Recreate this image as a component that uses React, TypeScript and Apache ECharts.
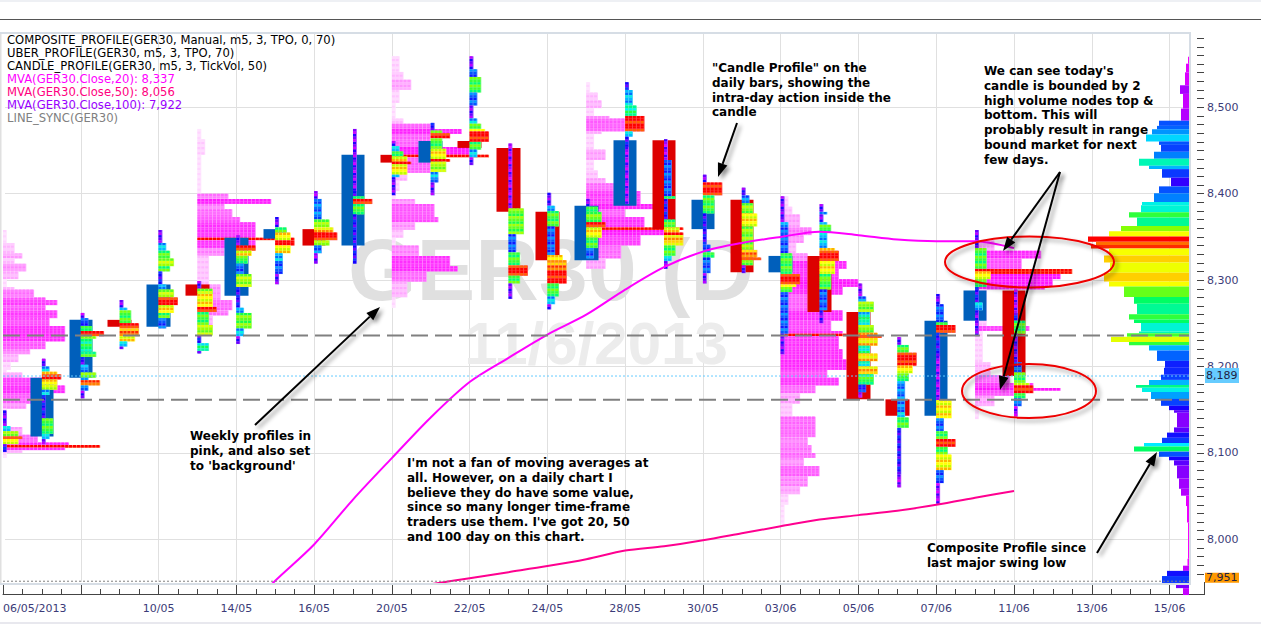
import React, { useEffect, useRef } from "react";
import * as echarts from "echarts";

const Y_MIN = 7950.6, Y_MAX = 8586, X_MAX = 30.5;
const xTickLabels: Record<number, string> = { 0: "06/05/2013", 2: "", 4: "10/05", 6: "14/05", 8: "16/05", 10: "20/05", 12: "22/05", 14: "24/05", 16: "28/05", 18: "30/05", 20: "03/06", 22: "05/06", 24: "07/06", 26: "11/06", 28: "13/06", 30: "15/06" };
const yMajor = [8000, 8100, 8200, 8300, 8400, 8500];
const hLevels = [8236, 8161.5];
const lastPrice = 8189, lowPrice = 7951;

// bars: open, close; index = position on the x axis starting at 1
const opens = [8119, 8187, 8254, 8246, 8295, 8282, 8348, 8359, 8340, 8445, 8436, 8461, 8453, 8379, 8323, 8386, 8462, 8359, 8393, 8309, 8328, 8263, 8162, 8143, 8253, 8288];
const closes = [8187, 8254, 8246, 8295, 8282, 8349, 8359, 8340, 8445, 8436, 8461, 8453, 8379, 8323, 8386, 8462, 8359, 8393, 8309, 8328, 8263, 8162, 8143, 8253, 8288, 8189];

const mva20 = [[6, 7907], [7, 7952], [8, 7994], [9, 8046], [10, 8094], [11, 8141], [12, 8182], [13, 8210], [14, 8237], [15, 8260], [16, 8289], [17, 8315], [18, 8333], [19, 8343], [20, 8350], [21, 8356], [22, 8352], [23, 8347], [24, 8345], [25, 8345], [26, 8337]];
const mva50 = [[11, 7948], [12, 7955], [13, 7962], [14, 7969], [15, 7977], [16, 7987], [17, 7992], [18, 7999], [19, 8007], [20, 8015], [21, 8023], [22, 8028], [23, 8033], [24, 8040], [25, 8048], [26, 8056]];

// Candle profiles: top price, then [rows of 3 points, width in cells]
const candleTops = [8149, 8209, 8262, 8277, 8358, 8299, 8352, 8373, 8403, 8475, 8461, 8482, 8559, 8458, 8401, 8394, 8529, 8463, 8422, 8407, 8397, 8388, 8296, 8234, 8284, 8358, 8289];
const candleRuns: number[][][] = [
  [[6, 0.7], [2, 2], [2, 3.5], [1, 5], [2, 4], [3, 1]],
  [[3, 0.7], [2, 2], [1, 4], [2, 5], [2, 4], [2, 3.8], [2, 2], [9, 1], [6, 3], [2, 2], [2, 0.7]],
  [[2, 0.6], [3, 1.5], [2, 3], [2, 5.5], [1, 4], [5, 3], [2, 3.2], [3, 1], [3, 2], [2, 3.5], [1, 2], [2, 5], [2, 2], [3, 0.7]],
  [[3, 0.7], [1, 2], [5, 3], [2, 5], [3, 4.5], [2, 4], [2, 2], [1, 0.7]],
  [[5, 0.7], [3, 2], [3, 3], [3, 3.5], [2, 3], [5, 1], [2, 2], [3, 3.5], [3, 5], [3, 4], [2, 3], [4, 1.5]],
  [[3, 0.7], [2, 3.5], [5, 4], [2, 5], [5, 3], [4, 3.5], [3, 1], [3, 2.5], [1, 1]],
  [[4, 0.7], [2, 5], [2, 4], [3, 3], [4, 1.5], [5, 3.5], [8, 1], [2, 2], [6, 3.2], [3, 2], [3, 0.7]],
  [[4, 0.7], [2, 3], [3, 4], [2, 5], [3, 4], [3, 2], [5, 1.5], [4, 0.7]],
  [[3, 0.7], [8, 2], [3, 4], [2, 5], [3, 6], [2, 4], [3, 2], [4, 0.7]],
  [[24, 0.6], [2, 1], [1, 3], [2, 5], [4, 3], [19, 1]],
  [[2, 0.7], [2, 2], [2, 3], [2, 4], [1, 5], [4, 4], [1, 2], [7, 0.7]],
  [[3, 1], [1, 3], [2, 5], [4, 3], [4, 4], [1, 5], [4, 3.5], [2, 2], [2, 1.5], [5, 0.7]],
  [[5, 0.7], [3, 1.5], [6, 3], [5, 1.5], [5, 0.7], [2, 2], [2, 3], [1, 4], [4, 5], [3, 3], [3, 2], [3, 0.7]],
  [[25, 0.5], [10, 3.2], [7, 1.5], [5, 3], [4, 5], [3, 3], [6, 0.7]],
  [[5, 0.7], [2, 2], [6, 3], [11, 1.5], [2, 4], [4, 4.5], [5, 5], [5, 3], [3, 2], [2, 0.7]],
  [[3, 0.7], [2, 3], [4, 3.2], [2, 5], [4, 4], [4, 3], [4, 1.5]],
  [[3, 1], [6, 2], [4, 2.6], [6, 5], [2, 2], [4, 1], [22, 0.5]],
  [[8, 0.5], [14, 1.5], [1, 3], [8, 1], [3, 3], [2, 4], [1, 5], [4, 4.2], [4, 3], [2, 2], [3, 0.7]],
  [[3, 0.7], [5, 5], [7, 3], [12, 1], [3, 1.5], [2, 3], [6, 1.5], [4, 0.7]],
  [[3, 0.7], [3, 1.5], [4, 3], [5, 3.6], [9, 3], [3, 4], [1, 4.5], [2, 3], [3, 0.7]],
  [[10, 0.7], [2, 2], [10, 1.5], [8, 3], [4, 5], [1, 4], [2, 3], [16, 1.5], [8, 0.7]],
  [[3, 0.7], [1, 2], [3, 0.7], [1, 2], [3, 3], [6, 2], [1, 4], [4, 5], [5, 4], [2, 3], [4, 3], [8, 1.5], [5, 0.7]],
  [[5, 0.7], [2, 2], [4, 4], [2, 2.6], [3, 3], [3, 4], [1, 5], [1, 6], [3, 5], [3, 3], [3, 5], [2, 3], [3, 5], [4, 3.5], [3, 1.5], [2, 0.7]],
  [[3, 0.7], [3, 3], [5, 5], [3, 4], [3, 3], [12, 1.7], [2, 2], [4, 3], [18, 1], [5, 0.5]],
  [[4, 0.7], [7, 1.5], [1, 3], [3, 5], [9, 1], [17, 0.5], [7, 4], [5, 1.5], [3, 3], [3, 5], [3, 3], [6, 4], [5, 1.5], [8, 0.5]],
  [[7, 0.7], [8, 3], [1, 5], [3, 4], [3, 3], [6, 1], [3, 2], [10, 0.7]],
  [[9, 0.5], [3, 1], [5, 3], [11, 0.7], [4, 1.5], [4, 3], [1, 4], [3, 5], [2, 3], [3, 1.5], [4, 0.5]],
];

// Weekly pink profiles: first bar index, top price, [rows of 3 points, width in cells]
const weekStarts = [0, 5, 10, 15, 20, 25];
const weekTops = [8358, 8475, 8559, 8529, 8397, 8358];
const weekRuns: number[][][] = [
  [[5, 1], [4, 3], [2, 5], [2, 3], [3, 6], [3, 4], [3, 1], [1, 3], [3, 8], [1, 11], [2, 14], [2, 11], [3, 14], [3, 12], [6, 16], [3, 11], [2, 7], [3, 4], [3, 2], [1, 1], [2, 5], [3, 14], [3, 16], [1, 12], [3, 10], [2, 6], [7, 1], [3, 5], [3, 9], [1, 17], [1, 25], [1, 16], [1, 5], [2, 1]],
  [[4, 1], [6, 2], [15, 1], [2, 8], [2, 19], [2, 7], [3, 9], [2, 11], [6, 15], [1, 25], [3, 15], [3, 7], [11, 3], [6, 6], [4, 9], [2, 8], [5, 4]],
  [[6, 2], [3, 3], [4, 5], [5, 2], [6, 1], [2, 3], [2, 10], [2, 18], [2, 10], [3, 10], [3, 20], [1, 25], [6, 10], [3, 4], [4, 2], [3, 1], [2, 6], [5, 11], [2, 12], [3, 6], [3, 3], [3, 1], [4, 7], [4, 15], [2, 17], [4, 9], [6, 4], [4, 1]],
  [[4, 1], [3, 3], [3, 4], [3, 2], [1, 6], [5, 10], [1, 4], [6, 2], [4, 5], [4, 2], [3, 3], [2, 5], [3, 9], [5, 14], [2, 19], [3, 10], [4, 15], [1, 25], [2, 20], [4, 14], [5, 9], [4, 5]],
  [[4, 2], [3, 3], [5, 5], [3, 8], [3, 6], [4, 4], [3, 7], [3, 17], [4, 15], [3, 20], [3, 16], [6, 10], [4, 16], [4, 13], [1, 16], [1, 25], [5, 15], [4, 16], [4, 17], [3, 12], [3, 15], [3, 9], [4, 5], [5, 3], [8, 9], [3, 7], [3, 8], [2, 9], [3, 6], [4, 10], [4, 7], [3, 5], [4, 2], [8, 1]],
  [[4, 1], [4, 5], [3, 17], [4, 12], [2, 25], [2, 22], [3, 20], [1, 18], [6, 3], [8, 3], [2, 14], [12, 2], [5, 4], [3, 9], [2, 15], [1, 22], [2, 12], [4, 5], [5, 1]],
];

// Composite profile: top price, then [points, width]
const compositeTop = 8558.5;
const compositeRuns = [[8, 1], [10, 3], [15, 4], [10, 9], [17, 6], [14, 8], [6, 30], [4, 32], [6, 37], [8, 43], [4, 30], [8, 28], [8, 35], [8, 50], [4, 40], [10, 27], [10, 18], [8, 30], [10, 35], [4, 47], [8, 48], [6, 60], [10, 52], [6, 68], [6, 80], [6, 101], [4, 93], [4, 98], [8, 80], [8, 85], [12, 79], [10, 85], [6, 80], [12, 65], [8, 55], [12, 52], [6, 60], [4, 55], [10, 48], [2, 50], [4, 62], [6, 78], [4, 60], [6, 40], [12, 32], [8, 24], [8, 25], [6, 28], [6, 40], [3, 53], [5, 47], [8, 38], [8, 28], [5, 20], [3, 15], [17, 12], [6, 15], [6, 22], [6, 27], [4, 45], [6, 55], [6, 30], [4, 20], [6, 15], [15, 12], [12, 10], [8, 8], [12, 3], [19, 2], [42, 1], [8, 1.5], [6, 6], [6, 22], [8, 27], [6, 13], [8, 6]];

const legendLines: [string, string][] = [
  ["COMPOSITE_PROFILE(GER30, Manual, m5, 3, TPO, 0, 70)", "#000000"],
  ["UBER_PROFILE(GER30, m5, 3, TPO, 70)", "#000000"],
  ["CANDLE_PROFILE(GER30, m5, 3, TickVol, 50)", "#000000"],
  ["MVA(GER30.Close,20): 8,337", "#ff00ff"],
  ["MVA(GER30.Close,50): 8,056", "#ff0080"],
  ["MVA(GER30.Close,100): 7,922", "#9900ff"],
  ["LINE_SYNC(GER30)", "#808080"],
];
const notes: [number, number, string[]][] = [
  [190, 436, ["Weekly profiles in", "pink, and also set", "to 'background'"]],
  [407, 463, ["I'm not a fan of moving averages at", "all. However, on a daily chart I", "believe they do have some value,", "since so many longer time-frame", "traders use them. I've got 20, 50", "and 100 day on this chart."]],
  [712, 68, ["\"Candle Profile\" on the", "daily bars, showing the", "intra-day action inside the", "candle"]],
  [984, 71, ["We can see today's", "candle is bounded by 2", "high volume nodes top &", "bottom. This will", "probably result in range", "bound market for next", "few days."]],
  [927, 548, ["Composite Profile since", "last major swing low"]],
];
const arrows = [[255, 425, 380, 307], [737, 123, 718, 177], [1060, 172, 1003, 251], [1060, 172, 1000, 390], [1097, 553, 1157, 452]];
const ellipses = [[1029.5, 262, 84.5, 25.5], [1029, 391, 67, 27]];

const stops: [number, number[]][] = [
  [0, [255, 0, 255]], [0.1, [160, 0, 255]], [0.2, [20, 0, 255]], [0.33, [0, 110, 255]], [0.45, [0, 240, 255]],
  [0.55, [0, 255, 90]], [0.68, [140, 255, 0]], [0.8, [255, 255, 0]], [0.9, [255, 140, 0]], [1, [255, 0, 0]],
];
function mix(a: number[], b: number[], t: number) {
  return a.map((v, i) => Math.round(v + (b[i] - v) * t));
}
function css(c: number[]) { return `rgb(${c[0]},${c[1]},${c[2]})`; }
function rainbow(t: number) {
  const v = Math.max(0, Math.min(1, t));
  for (let i = 1; i < stops.length; i++) {
    if (v <= stops[i][0]) return mix(stops[i - 1][1], stops[i][1], (v - stops[i - 1][0]) / (stops[i][0] - stops[i - 1][0]));
  }
  return stops[stops.length - 1][1];
}
const pinkStops: [number, number[]][] = [[0, [255, 228, 255]], [0.1, [255, 190, 255]], [0.3, [255, 110, 255]], [0.6, [255, 45, 255]], [1, [255, 0, 255]]];
function pink(t: number) {
  const v = Math.max(0, Math.min(1, t));
  for (let i = 1; i < pinkStops.length; i++) {
    if (v <= pinkStops[i][0]) return mix(pinkStops[i - 1][1], pinkStops[i][1], (v - pinkStops[i - 1][0]) / (pinkStops[i][0] - pinkStops[i - 1][0]));
  }
  return pinkStops[pinkStops.length - 1][1];
}
const WHITE = [255, 255, 255];

function flatten(starts: number[], tops: number[], runs: number[][][]) {
  const out: number[][] = [];
  runs.forEach((list, p) => {
    const max = Math.max(...list.map((r) => r[1]));
    let price = tops[p];
    list.forEach(([rows, w]) => {
      out.push([starts[p], price, rows, w, w / max]);
      price -= rows * 3;
    });
  });
  return out;
}

function cellRenderer(kind: "week" | "candle") {
  const shifts = kind === "week" ? [0, -0.06] : [-0.07, 0.07, 0];
  return (_: any, api: any) => {
    const x0 = api.value(0), price = api.value(1), rows = api.value(2), w = api.value(3), t = api.value(4);
    const p = api.coord([x0, price]);
    const rowH = api.size([0, 3])[1];
    const cellW = api.size([0.1, 0])[0];
    const cells = Math.ceil(w);
    const paths: string[] = shifts.map(() => "");
    const base = Math.round(price / 3);
    for (let r = 0; r < rows; r++) {
      const ph = (base + r) % shifts.length;
      for (let c = 0; c < cells; c++) {
        paths[ph] += `M${(p[0] + c * cellW).toFixed(1)} ${(p[1] + r * rowH).toFixed(1)}h3v${(rowH - 0.3).toFixed(1)}h-3Z`;
      }
    }
    const isPoc = kind === "week" && t >= 1;
    const colour = (s: number) => (isPoc ? [255, 0, 0] : kind === "week" ? pink(t + s) : rainbow(t + s));
    const bg = isPoc ? [255, 110, 70] : mix(colour(0), WHITE, kind === "week" ? 0.38 : 0.3);
    const children: any[] = [{ type: "rect", shape: { x: p[0], y: p[1], width: cells * cellW, height: rows * rowH }, style: { fill: css(bg) } }];
    paths.forEach((d, i) => {
      if (d) children.push({ type: "path", shape: { pathData: d }, style: { fill: css(colour(shifts[i])) } });
    });
    return { type: "group", children };
  };
}

function compositeData() {
  const out: number[][] = [];
  const max = Math.max(...compositeRuns.map((r) => r[1]));
  let price = compositeTop;
  compositeRuns.forEach(([pts, w]) => {
    out.push([price, pts, w, w / max]);
    price -= pts;
  });
  return out;
}

function arrowEls() {
  const els: any[] = [];
  const shadow = { shadowBlur: 4, shadowColor: "rgba(0,0,0,0.45)", shadowOffsetX: 3, shadowOffsetY: 3 };
  arrows.forEach(([x1, y1, x2, y2]) => {
    const a = Math.atan2(y2 - y1, x2 - x1);
    const bx = x2 - 14 * Math.cos(a), by = y2 - 14 * Math.sin(a);
    const nx = -Math.sin(a) * 5, ny = Math.cos(a) * 5;
    els.push({ type: "line", z: 50, shape: { x1, y1, x2: bx, y2: by }, style: { stroke: "#000", lineWidth: 2, ...shadow } });
    els.push({ type: "polygon", z: 50, shape: { points: [[x2, y2], [bx + nx, by + ny], [bx - nx, by - ny]] }, style: { fill: "#000", ...shadow } });
  });
  return els;
}

export default function App() {
  const ref = useRef<HTMLDivElement>(null);
  useEffect(() => {
    document.body.style.margin = "0";
    const chart = echarts.init(ref.current!, undefined, { renderer: "svg" });
    const labelStyle = { color: "#3b3b78", fontFamily: "DejaVu Sans", fontSize: 11 };
    const minorTicks: number[] = [];
    for (let v = 7960; v <= 8580; v += 10) minorTicks.push(v);

    const graphics: any[] = [
      { type: "rect", z: 0.5, shape: { x: 0, y: 34, width: 5, height: 549 }, style: { fill: "#ffffff" } },
      { type: "rect", z: 0.6, shape: { x: 0, y: 34, width: 1.5, height: 549 }, style: { fill: "#e0e0e0" } },
      { type: "text", z: 0.5, style: { text: "GER30 (D", x: 348, y: 269, font: "bold 88px 'Liberation Sans'", fill: "#e0e0e0", textVerticalAlign: "middle" } },
      { type: "text", z: 0.5, style: { text: "11/6/2013", x: 596, y: 343, font: "bold 60px 'Liberation Sans'", fill: "#ececec", textAlign: "center", textVerticalAlign: "middle" } },
      { type: "rect", z: 60, shape: { x: 0, y: 0, width: 1261, height: 2 }, style: { fill: "#eef0f4" } },
      { type: "rect", z: 60, shape: { x: 0, y: 19, width: 1261, height: 1 }, style: { fill: "#555555" } },
      { type: "rect", z: 60, shape: { x: 0, y: 32, width: 1190, height: 2 }, style: { fill: "#d6dde5" } },
      { type: "rect", z: 60, shape: { x: 1189, y: 32, width: 2, height: 553 }, style: { fill: "#d6dde5" } },
      { type: "rect", z: 60, shape: { x: 0, y: 583, width: 1190, height: 2 }, style: { fill: "#d6dde5" } },
      { type: "rect", z: 60, shape: { x: 0, y: 622, width: 1261, height: 2 }, style: { fill: "#e8e8ee" } },
      { type: "line", z: 60, shape: { x1: 1189, y1: 594.5, x2: 1204.5, y2: 594.5 }, style: { stroke: "#444", lineWidth: 1 } },
      { type: "line", z: 60, shape: { x1: 1204.5, y1: 582, x2: 1204.5, y2: 595 }, style: { stroke: "#444", lineWidth: 1 } },
      ...ellipses.map(([cx, cy, rx, ry]) => ({
        type: "ellipse", z: 50, shape: { cx, cy, rx, ry },
        style: { fill: "transparent", stroke: "#ee0000", lineWidth: 2, shadowBlur: 4, shadowColor: "rgba(0,0,0,0.4)", shadowOffsetX: 3, shadowOffsetY: 3 },
      })),
      ...arrowEls(),
    ];
    legendLines.forEach(([text, fill], i) => {
      graphics.push({ type: "text", z: 70, style: { text, x: 7, y: 40 + i * 13, fill, font: "11.6px 'DejaVu Sans'", textVerticalAlign: "middle" } });
    });
    notes.forEach(([x, y, lines]) => {
      lines.forEach((text, i) => {
        graphics.push({ type: "text", z: 70, style: { text, x, y: y + i * 14.8, fill: "#000", font: "bold 12px 'DejaVu Sans'", textVerticalAlign: "middle" } });
      });
    });

    const option: any = {
      animation: false,
      tooltip: { show: false },
      grid: { left: 0.5, top: 33, width: 1188.5, height: 549, containLabel: false },
      xAxis: {
        type: "value", min: 0, max: X_MAX, interval: 2,
        offset: 12,
        axisLine: { show: true, onZero: false, lineStyle: { color: "#444" } },
        axisTick: { show: true, inside: true, length: 11, lineStyle: { color: "#444" }, customValues: Object.keys(xTickLabels).map(Number) },
        minorTick: { show: true, splitNumber: 4, length: 5, lineStyle: { color: "#444" } },
        splitLine: { show: true, lineStyle: { color: "#e0e0e0" } },
        axisLabel: { ...labelStyle, margin: 9, alignMinLabel: "left", customValues: Object.keys(xTickLabels).map(Number), formatter: (v: number) => xTickLabels[v] ?? "" },
      },
      yAxis: [
        {
          type: "value", position: "right", min: Y_MIN, max: Y_MAX, offset: 15,
          axisLine: { show: true, lineStyle: { color: "#444" } },
          axisTick: { show: true, inside: true, length: 14, lineStyle: { color: "#444" }, customValues: yMajor },
          splitLine: { show: true, lineStyle: { color: "#e0e0e0" } },
          axisLabel: { ...labelStyle, margin: 3, customValues: yMajor, formatter: (v: number) => v.toLocaleString("en-US") },
        },
        {
          type: "value", position: "right", min: Y_MIN, max: Y_MAX, offset: 15,
          axisLine: { show: false },
          axisTick: { show: true, inside: true, length: 7, lineStyle: { color: "#444" }, customValues: minorTicks },
          splitLine: { show: false },
          axisLabel: { show: false },
        },
      ],
      graphic: { elements: graphics },
      series: [
        {
          type: "custom", name: "Weekly profile", z: 1, renderItem: cellRenderer("week"), silent: true, progressive: 0,
          data: flatten(weekStarts, weekTops, weekRuns),
        },
        {
          type: "candlestick", name: "GER30", z: 2, barWidth: 24, silent: true,
          itemStyle: { color: "#005fbb", color0: "#dd0000", borderColor: "#005fbb", borderColor0: "#dd0000", borderWidth: 0 },
          encode: { x: 0, y: [1, 2, 3, 4] },
          data: opens.map((o, i) => [i + 1, o, closes[i], Math.min(o, closes[i]), Math.max(o, closes[i])]),
        },
        {
          type: "custom", name: "Candle profile", z: 3, renderItem: cellRenderer("candle"), silent: true, progressive: 0,
          data: flatten(candleTops.map((_, i) => i), candleTops, candleRuns),
        },
        {
          type: "custom", name: "Composite profile", z: 3, silent: true, progressive: 0,
          renderItem: (_: any, api: any) => {
            const p = api.coord([X_MAX, api.value(0)]);
            const h = api.size([0, api.value(1)])[1];
            const w = api.value(2);
            return { type: "rect", shape: { x: p[0] - w, y: p[1], width: w, height: h }, style: { fill: css(rainbow(api.value(3))) } };
          },
          data: compositeData(),
        },
        { type: "line", name: "MVA20", z: 4, data: mva20, showSymbol: false, smooth: 0.3, lineStyle: { color: "#ff00ff", width: 2 } },
        { type: "line", name: "MVA50", z: 4, data: mva50, showSymbol: false, smooth: 0.3, lineStyle: { color: "#ff0090", width: 2 } },
        { type: "line", z: 4, data: [[0, lastPrice], [X_MAX, lastPrice]], showSymbol: false, lineStyle: { color: "#66ccff", width: 1, type: [2, 2] } },
        ...hLevels.map((v) => ({ type: "line", z: 5, data: [[0, v], [X_MAX, v]], showSymbol: false, lineStyle: { color: "#808080", width: 2, type: [17, 7] } })),
        { type: "line", z: 5, data: [[0, lowPrice + 0.5], [X_MAX, lowPrice + 0.5]], showSymbol: false, lineStyle: { color: "#808080", width: 1, type: [2, 2] } },
        {
          type: "custom", name: "Price tags", clip: false, silent: true, z: 20,
          renderItem: (_: any, api: any) => {
            const y = api.coord([X_MAX, api.value(0)])[1];
            const x = api.coord([X_MAX, api.value(0)])[0] + 16;
            const isLast = api.value(0) === lastPrice;
            const top = isLast ? y - 8 : y - 9;
            const h = isLast ? 15 : 10;
            return {
              type: "group",
              children: [
                { type: "rect", shape: { x, y: top, width: 34, height: h }, style: { fill: isLast ? "#66ccff" : "#ff9900" } },
                { type: "text", style: { text: isLast ? "8,189" : "7,951", x: x + 1, y: top + h / 2, fill: "#222244", font: "11px 'DejaVu Sans'", textVerticalAlign: "middle" } },
              ],
            };
          },
          data: [[lastPrice], [lowPrice]],
        },
      ],
    };
    chart.setOption(option);
    return () => chart.dispose();
  }, []);
  return <div ref={ref} style={{ position: "absolute", left: 0, top: 0, width: 1261, height: 624, background: "#fff" }} />;
}
